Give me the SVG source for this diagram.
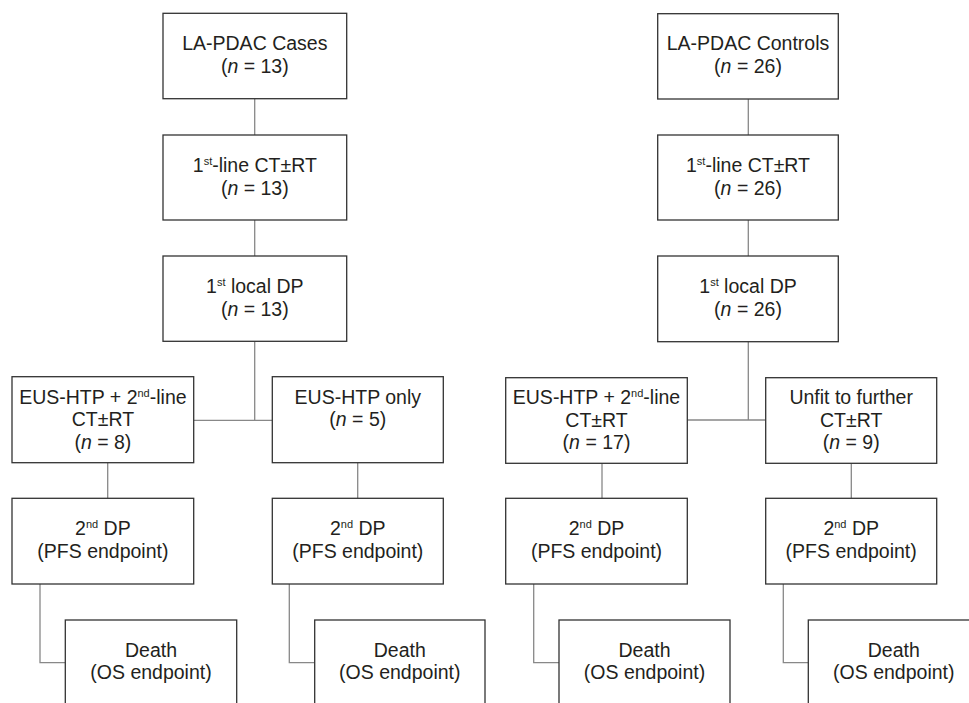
<svg xmlns="http://www.w3.org/2000/svg" width="969" height="703" viewBox="0 0 969 703">
<style>
.box{fill:#fff;stroke:#333;stroke-width:1.3}
.con{fill:none;stroke:#888;stroke-width:1.3}
text{font-family:"Liberation Sans",Arial,sans-serif;font-size:19.5px;fill:#231f20;text-anchor:middle}
.sup{font-size:11px}
.i{font-style:italic}
</style>
<rect width="969" height="703" fill="#fff"/>
<g id="connectors">
<path class="con" d="M254.7 98.7V135M254.7 220V256M254.7 341.3V420.3M193.7 420.3H272.3"/>
<path class="con" d="M107.7 462.7V498.3M357.7 462.7V498.3"/>
<path class="con" d="M40 584V662.7H65.3M289.3 584V662.7H314.7"/>
<path class="con" d="M748.3 99V135M748.3 220V256M748.3 341.7V420M687.3 420H765.7"/>
<path class="con" d="M602 463.3V498.3M851.3 463.3V498.3"/>
<path class="con" d="M533.7 584V662.7H559M783.3 584V662.7H808.3"/>
</g>
<g id="cases">
<rect class="box" x="163" y="13.3" width="183.7" height="85.4"/>
<text x="254.8" y="50">LA-PDAC Cases</text>
<text x="254.8" y="73">(<tspan class="i">n</tspan> = 13)</text>
</g>
<g id="cases-line1">
<rect class="box" x="163" y="135" width="183.7" height="85"/>
<text x="254.8" y="171.7">1<tspan class="sup" dy="-7">st</tspan><tspan dy="7">-line CT±RT</tspan></text>
<text x="254.8" y="194.7">(<tspan class="i">n</tspan> = 13)</text>
</g>
<g id="cases-dp1">
<rect class="box" x="163" y="256" width="183.7" height="85.3"/>
<text x="254.8" y="293">1<tspan class="sup" dy="-7">st</tspan><tspan dy="7"> local DP</tspan></text>
<text x="254.8" y="316">(<tspan class="i">n</tspan> = 13)</text>
</g>
<g id="cases-eus2">
<rect class="box" x="12" y="376.7" width="181.7" height="86"/>
<text x="102.9" y="403.5">EUS-HTP + 2<tspan class="sup" dy="-7">nd</tspan><tspan dy="7">-line</tspan></text>
<text x="102.9" y="426">CT±RT</text>
<text x="102.9" y="448.5">(<tspan class="i">n</tspan> = 8)</text>
</g>
<g id="cases-eusonly">
<rect class="box" x="272.3" y="376.7" width="171" height="86"/>
<text x="357.8" y="403.5">EUS-HTP only</text>
<text x="357.8" y="426">(<tspan class="i">n</tspan> = 5)</text>
</g>
<g id="cases-dp2a">
<rect class="box" x="12" y="498.3" width="181.7" height="85.7"/>
<text x="102.9" y="535">2<tspan class="sup" dy="-7">nd</tspan><tspan dy="7"> DP</tspan></text>
<text x="102.9" y="557.5">(PFS endpoint)</text>
</g>
<g id="cases-dp2b">
<rect class="box" x="272.3" y="498.3" width="171" height="85.7"/>
<text x="357.8" y="535">2<tspan class="sup" dy="-7">nd</tspan><tspan dy="7"> DP</tspan></text>
<text x="357.8" y="557.5">(PFS endpoint)</text>
</g>
<g id="cases-death-a">
<rect class="box" x="65.3" y="620" width="171.4" height="110"/>
<text x="151" y="656.7">Death</text>
<text x="151" y="678.5">(OS endpoint)</text>
</g>
<g id="cases-death-b">
<rect class="box" x="314.7" y="620" width="170.3" height="110"/>
<text x="399.8" y="656.7">Death</text>
<text x="399.8" y="678.5">(OS endpoint)</text>
</g>
<g id="controls">
<rect class="box" x="657.7" y="13.7" width="180.6" height="85.3"/>
<text x="748" y="50.3">LA-PDAC Controls</text>
<text x="748" y="73.3">(<tspan class="i">n</tspan> = 26)</text>
</g>
<g id="controls-line1">
<rect class="box" x="657.7" y="135" width="180.6" height="85"/>
<text x="748" y="171.7">1<tspan class="sup" dy="-7">st</tspan><tspan dy="7">-line CT±RT</tspan></text>
<text x="748" y="194.7">(<tspan class="i">n</tspan> = 26)</text>
</g>
<g id="controls-dp1">
<rect class="box" x="657.7" y="256" width="180.6" height="85.7"/>
<text x="748" y="293">1<tspan class="sup" dy="-7">st</tspan><tspan dy="7"> local DP</tspan></text>
<text x="748" y="316">(<tspan class="i">n</tspan> = 26)</text>
</g>
<g id="controls-eus2">
<rect class="box" x="505.7" y="377.7" width="181.6" height="85.6"/>
<text x="596.5" y="404">EUS-HTP + 2<tspan class="sup" dy="-7">nd</tspan><tspan dy="7">-line</tspan></text>
<text x="596.5" y="426.5">CT±RT</text>
<text x="596.5" y="449">(<tspan class="i">n</tspan> = 17)</text>
</g>
<g id="controls-unfit">
<rect class="box" x="765.7" y="377.7" width="171" height="85.6"/>
<text x="851.2" y="404">Unfit to further</text>
<text x="851.2" y="426.5">CT±RT</text>
<text x="851.2" y="449">(<tspan class="i">n</tspan> = 9)</text>
</g>
<g id="controls-dp2a">
<rect class="box" x="505.7" y="498.3" width="181.6" height="85.7"/>
<text x="596.5" y="535">2<tspan class="sup" dy="-7">nd</tspan><tspan dy="7"> DP</tspan></text>
<text x="596.5" y="557.5">(PFS endpoint)</text>
</g>
<g id="controls-dp2b">
<rect class="box" x="765.7" y="498.3" width="171" height="85.7"/>
<text x="851.2" y="535">2<tspan class="sup" dy="-7">nd</tspan><tspan dy="7"> DP</tspan></text>
<text x="851.2" y="557.5">(PFS endpoint)</text>
</g>
<g id="controls-death-a">
<rect class="box" x="559" y="620" width="171" height="110"/>
<text x="644.5" y="656.7">Death</text>
<text x="644.5" y="678.5">(OS endpoint)</text>
</g>
<g id="controls-death-b">
<rect class="box" x="808.3" y="620" width="171" height="110"/>
<text x="893.8" y="656.7">Death</text>
<text x="893.8" y="678.5">(OS endpoint)</text>
</g>
</svg>
